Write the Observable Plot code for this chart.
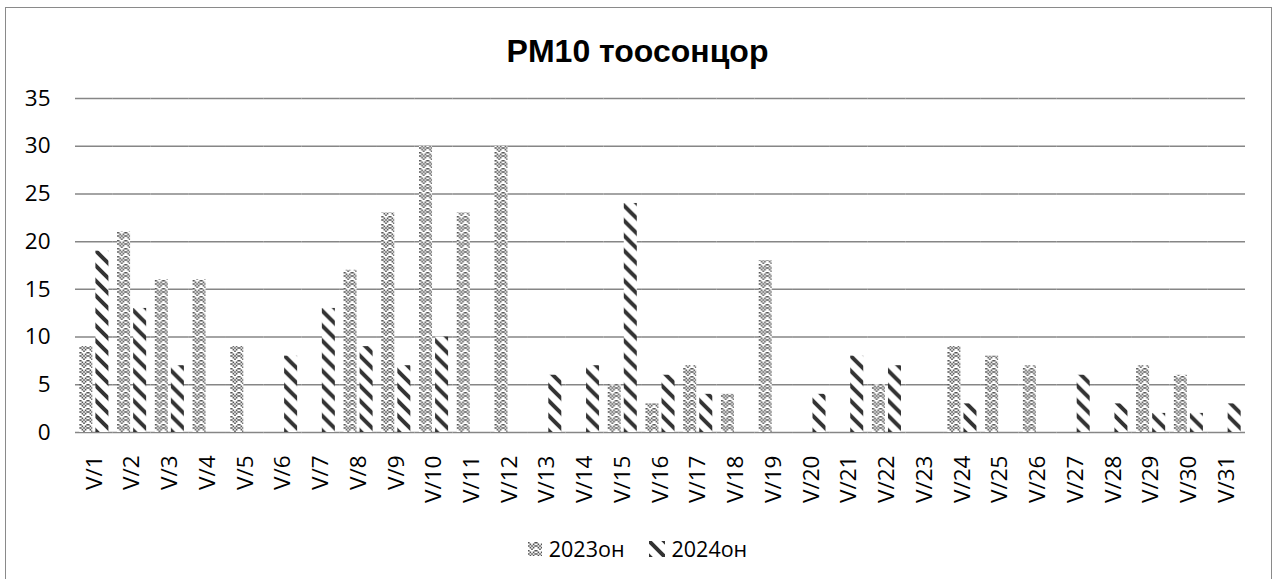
<!DOCTYPE html>
<html>
<head>
<meta charset="utf-8">
<script src="https://cdn.jsdelivr.net/npm/d3@7"></script>
<script src="https://cdn.jsdelivr.net/npm/@observablehq/plot@0.6"></script>
<style>
  html, body { margin: 0; padding: 0; background: #fff; width: 1275px; height: 579px; overflow: hidden; }
  #frame { position: absolute; left: 5px; top: 7px; width: 1267px; height: 620px; border: 1.5px solid #8a8a8a; box-sizing: border-box; }
  #title { position: absolute; left: 0; top: 31px; width: 1275px; text-align: center; font-family: "Liberation Sans", Arial, sans-serif; font-weight: bold; font-size: 32px; line-height: 40px; color: #000; }
  #chart { position: absolute; left: 0; top: 80px; }
  #legend { position: absolute; left: 0; top: 534px; width: 1275px; display: flex; justify-content: center; align-items: center; font-family: "Open Sans", sans-serif; font-size: 21.5px; color: #000; }
  .item { display: flex; align-items: center; margin: 0 12px; }
  .item svg { margin-right: 7px; }
</style>
</head>
<body>
<svg width="0" height="0" style="position:absolute">
  <defs>
    <pattern id="p23" patternUnits="userSpaceOnUse" width="8" height="8">
      <rect width="8" height="8" fill="#fff"/>
      <path d="M0,0h1.6v1.6h-1.6z M1.6,1.6h1.6v1.6h-1.6z M3.2,3.2h1.6v1.6h-1.6z M4.8,1.6h1.6v1.6h-1.6z M6.4,0h1.6v1.6h-1.6z
               M0,3.2h1.6v1.6h-1.6z M1.6,4.8h1.6v1.6h-1.6z M3.2,6.4h1.6v1.6h-1.6z M4.8,4.8h1.6v1.6h-1.6z M6.4,3.2h1.6v1.6h-1.6z" fill="#555"/>
    </pattern>
    <pattern id="p24" patternUnits="userSpaceOnUse" width="15" height="15">
      <rect width="15" height="15" fill="#fff"/>
      <path d="M-2,-2L17,17 M-2,13L2,17 M13,-2L17,2" stroke="#333" stroke-width="4"/>
    </pattern>
  </defs>
</svg>
<div id="frame"></div>
<div id="title">PM10 тоосонцор</div>
<div id="chart"></div>
<div id="legend">
  <div class="item"><svg width="14" height="14"><rect width="14" height="14" fill="url(#p23)"/></svg><span>2023он</span></div>
  <div class="item"><svg width="16" height="16"><rect width="16" height="16" fill="url(#p24)"/></svg><span>2024он</span></div>
</div>
<script>
const days = ["V/1","V/2","V/3","V/4","V/5","V/6","V/7","V/8","V/9","V/10","V/11","V/12","V/13","V/14","V/15","V/16","V/17","V/18","V/19","V/20","V/21","V/22","V/23","V/24","V/25","V/26","V/27","V/28","V/29","V/30","V/31"];
const series = ["2023он", "2024он"];
const values2023 = [9,21,16,16,9,0,0,17,23,30,23,30,0,0,5,3,7,4,18,0,0,5,0,9,8,7,0,0,7,6,0];
const values2024 = [19,13,7,0,0,8,13,9,7,10,0,0,6,7,24,6,4,0,0,4,8,7,0,3,0,0,6,3,2,2,3];
const yTicks = [0,5,10,15,20,25,30,35];

const rows2023 = days.map((d, i) => ({day: d, series: series[0], value: values2023[i]}));
const rows2024 = days.map((d, i) => ({day: d, series: series[1], value: values2024[i]}));

const hasAxisMarks = typeof Plot.axisY === "function";
const marks = [
  Plot.ruleY(yTicks, {stroke: "#868686", strokeWidth: 1.5}),
  Plot.barY(rows2023, {fx: "day", x: "series", y: "value", fill: "url(#p23)"}),
  Plot.barY(rows2024, {fx: "day", x: "series", y: "value", fill: "url(#p24)"})
];
if (hasAxisMarks) {
  marks.push(Plot.axisY(yTicks, {anchor: "left", tickSize: 0, tickPadding: 0, dx: -25, label: null, fontSize: 22.5}));
  marks.push(Plot.axisFx({anchor: "bottom", tickSize: 0, tickPadding: 0, tickRotate: -90, dy: 23, label: null, fontSize: 22.5}));
}

const chart = Plot.plot({
  width: 1275,
  height: 420,
  marginLeft: 75,
  marginRight: 30,
  marginTop: 18,
  marginBottom: 68,
  style: {fontFamily: "'Open Sans', sans-serif", fontSize: "22.5px", color: "#000", background: "transparent", overflow: "visible"},
  fx: hasAxisMarks ? {domain: days, padding: 0, round: false, label: null, axis: null}
                   : {domain: days, padding: 0, round: false, label: null, axis: "bottom", tickRotate: -90, tickSize: 0, tickPadding: 23},
  x: {domain: series, axis: null, round: false, paddingInner: 0.19, paddingOuter: 0.27},
  y: hasAxisMarks ? {domain: [0, 35], axis: null}
                  : {domain: [0, 35], ticks: yTicks, label: null, tickSize: 0, tickPadding: 25},
  marks
});
document.getElementById("chart").appendChild(chart);
</script>
</body>
</html>
